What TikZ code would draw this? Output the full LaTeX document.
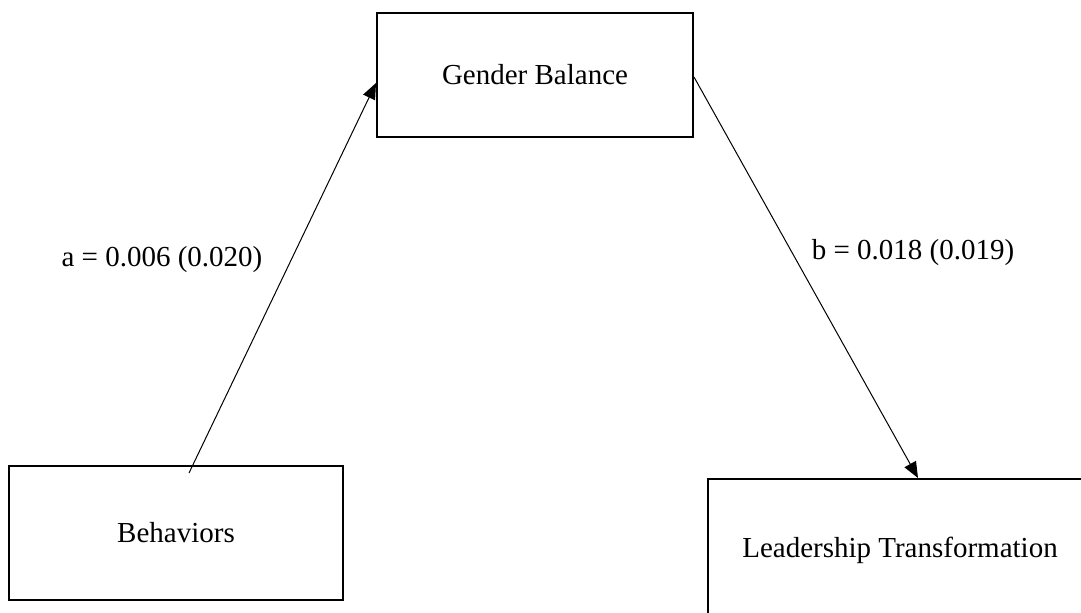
\documentclass[tikz,border=0pt]{standalone}
\usepackage{fontspec}
\setmainfont{Liberation Serif}
\usetikzlibrary{arrows.meta}
\begin{document}
\begin{tikzpicture}[x=0.5pt,y=-0.5pt,
  box/.style={draw,line width=1pt,fill=white,inner sep=0pt,
    font=\fontsize{14.5pt}{17pt}\selectfont},
  path/.style={line width=0.5pt,-{Triangle[length=8pt,width=6.5pt]}},
  lbl/.style={font=\fontsize{14.5pt}{17pt}\selectfont}]
  \useasboundingbox (0,0) rectangle (1081,612);
  \clip (0,0) rectangle (1081,612);
  % boxes
  \node[box,minimum width=316pt*0.5,minimum height=124pt*0.5] (gb) at (535,75) {Gender Balance};
  \node[box,minimum width=334pt*0.5,minimum height=134pt*0.5] (beh) at (176,533) {Behaviors};
  \node[box,minimum width=384pt*0.5,minimum height=142pt*0.5] (lt) at (900,550) {Leadership Transformation};
  % connector end points
  \coordinate (a0) at (189,473);
  \coordinate (a1) at ([yshift=-8*0.5pt]gb.west);
  \coordinate (b0) at ([yshift=-2*0.5pt]gb.east);
  \coordinate (b1) at ([xshift=18*0.5pt]lt.north);
  % paths
  \draw[path] (a0) -- (a1);
  \draw[path] (b0) -- (b1);
  % coefficients
  \node[lbl] (la) at (162,260) {a = 0.006 (0.020)};
  \node[lbl] (lb) at (913,253) {b = 0.018 (0.019)};
\end{tikzpicture}
\end{document}
